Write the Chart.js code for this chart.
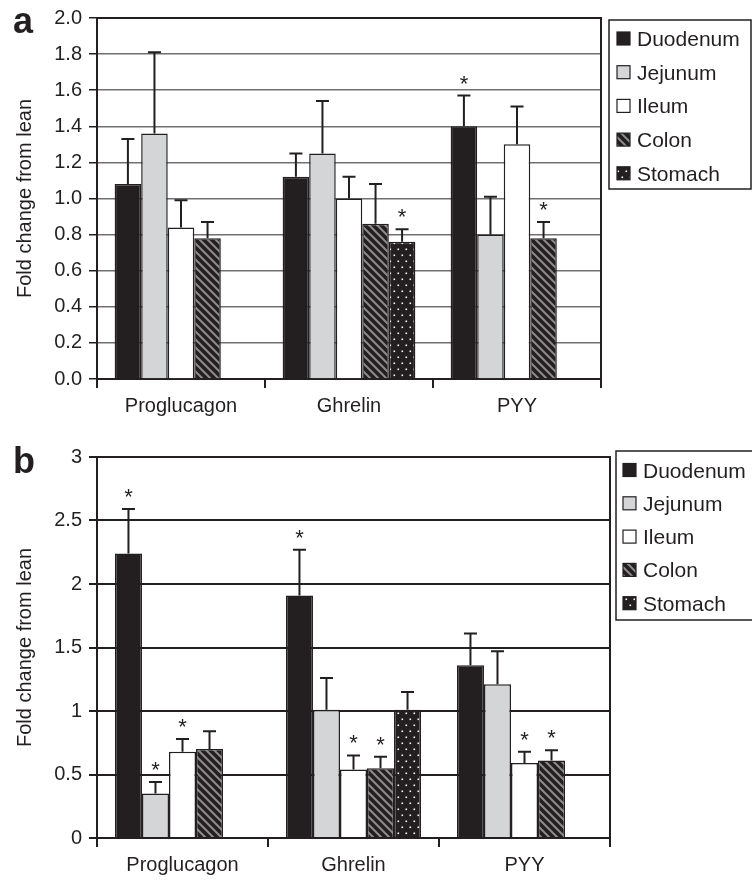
<!DOCTYPE html>
<html><head><meta charset="utf-8">
<script src="https://cdn.jsdelivr.net/npm/chart.js@4"></script>
<style>
html,body{margin:0;padding:0;background:#fff;width:752px;height:880px;overflow:hidden}
canvas{position:absolute;left:0}
#ca{top:0}
#cb{top:440px}
</style></head><body>
<canvas id="ca" width="752" height="420"></canvas>
<canvas id="cb" width="752" height="440"></canvas>
<script>
// ---------- data ----------
const categories = ['Proglucagon', 'Ghrelin', 'PYY'];
const seriesNames = ['Duodenum', 'Jejunum', 'Ileum', 'Colon', 'Stomach'];
const yTicksA = ['0.0','0.2','0.4','0.6','0.8','1.0','1.2','1.4','1.6','1.8','2.0'];
const yTicksB = ['0','0.5','1','1.5','2','2.5','3'];
const yTitle = 'Fold change from lean';

// panel a: means
const aDuodenum = [1.08, 1.12, 1.40];
const aJejunum  = [1.36, 1.25, 0.80];
const aIleum    = [0.84, 1.00, 1.30];
const aColon    = [0.78, 0.86, 0.78];
const aStomach  = [null, 0.76, null];
// panel a: upper error (SEM)
const aDuodenumErr = [0.25, 0.13, 0.17];
const aJejunumErr  = [0.45, 0.29, 0.21];
const aIleumErr    = [0.15, 0.12, 0.21];
const aColonErr    = [0.09, 0.22, 0.09];
const aStomachErr  = [null, 0.07, null];
// panel a: significance stars
const aDuodenumStar = [false, false, true];
const aJejunumStar  = [false, false, false];
const aIleumStar    = [false, false, false];
const aColonStar    = [false, false, true];
const aStomachStar  = [false, true, false];

// panel b: means
const bDuodenum = [2.24, 1.91, 1.36];
const bJejunum  = [0.35, 1.01, 1.21];
const bIleum    = [0.68, 0.54, 0.59];
const bColon    = [0.70, 0.55, 0.61];
const bStomach  = [null, 1.01, null];
// panel b: upper error (SEM)
const bDuodenumErr = [0.35, 0.36, 0.25];
const bJejunumErr  = [0.09, 0.25, 0.26];
const bIleumErr    = [0.10, 0.11, 0.09];
const bColonErr    = [0.14, 0.09, 0.08];
const bStomachErr  = [null, 0.14, null];
// panel b: significance stars
const bDuodenumStar = [true, true, false];
const bJejunumStar  = [true, false, false];
const bIleumStar    = [true, true, true];
const bColonStar    = [false, true, true];
const bStomachStar  = [false, false, false];

// ---------- styles ----------
const INK = '#231f20';
const FONT = "'Liberation Sans', Arial, Helvetica, sans-serif";

function stripePattern() {
  const c = document.createElement('canvas'); c.width = 8; c.height = 8;
  const g = c.getContext('2d');
  g.fillStyle = INK; g.fillRect(0, 0, 8, 8);
  g.strokeStyle = '#8c8c8c'; g.lineWidth = 2;
  g.beginPath();
  g.moveTo(-2, -2); g.lineTo(10, 10);
  g.moveTo(-2, 6); g.lineTo(2, 10);
  g.moveTo(6, -2); g.lineTo(10, 2);
  g.stroke();
  return g.createPattern(c, 'repeat');
}
function dotPattern() {
  const c = document.createElement('canvas'); c.width = 8; c.height = 12;
  const g = c.getContext('2d');
  g.fillStyle = INK; g.fillRect(0, 0, 8, 12);
  g.fillStyle = '#ffffff';
  g.fillRect(1.5, 2.5, 1.6, 1.6);
  g.fillRect(5.5, 8.5, 1.6, 1.6);
  return g.createPattern(c, 'repeat');
}
const fills = [INK, '#d4d5d6', '#ffffff', stripePattern(), dotPattern()];

// ---------- plugins ----------
const errorPlugin = {
  id: 'errorBars',
  afterDatasetsDraw(chart) {
    const ctx = chart.ctx, ys = chart.scales.y;
    ctx.save();
    chart.data.datasets.forEach((ds, di) => {
      const meta = chart.getDatasetMeta(di);
      meta.data.forEach((bar, i) => {
        const v = ds.data[i], e = ds.errors[i];
        if (v == null || e == null) return;
        const top = ys.getPixelForValue(v + e);
        ctx.strokeStyle = INK; ctx.lineWidth = 2;
        ctx.beginPath();
        ctx.moveTo(bar.x, bar.y); ctx.lineTo(bar.x, top);
        ctx.moveTo(bar.x - 6.5, top); ctx.lineTo(bar.x + 6.5, top);
        ctx.stroke();
        if (ds.stars[i]) {
          ctx.fillStyle = INK;
          ctx.font = '22px ' + FONT;
          ctx.textAlign = 'center'; ctx.textBaseline = 'alphabetic';
          ctx.fillText('*', bar.x, top - 5);
        }
      });
    });
    ctx.restore();
  }
};
const framePlugin = {
  id: 'frame',
  beforeDatasetsDraw(chart) {
    const {ctx, chartArea: a} = chart;
    ctx.save();
    ctx.strokeStyle = INK; ctx.lineWidth = 2;
    ctx.strokeRect(a.left, a.top, a.right - a.left, a.bottom - a.top);
    ctx.restore();
  }
};
function legendPlugin(cfg) {
  return {
    id: 'boxLegend',
    afterDraw(chart) {
      const ctx = chart.ctx;
      ctx.save();
      ctx.strokeStyle = INK; ctx.lineWidth = 1.5;
      ctx.strokeRect(cfg.x0, cfg.y0, cfg.x1 - cfg.x0, cfg.y1 - cfg.y0);
      ctx.font = '21px ' + FONT;
      ctx.textAlign = 'left'; ctx.textBaseline = 'alphabetic';
      chart.data.datasets.forEach((ds, i) => {
        const cy = cfg.rowY + i * cfg.step;
        ctx.fillStyle = ds.backgroundColor;
        ctx.fillRect(cfg.swX, cy - 6.5, 13, 13);
        ctx.lineWidth = 1.2; ctx.strokeStyle = INK;
        ctx.strokeRect(cfg.swX, cy - 6.5, 13, 13);
        ctx.fillStyle = INK;
        ctx.fillText(ds.label, cfg.textX, cy + 7.5);
      });
      ctx.restore();
    }
  };
}
function panelLabel(txt, x, y) {
  return {
    id: 'panelLabel',
    afterDraw(chart) {
      const ctx = chart.ctx;
      ctx.save();
      ctx.fillStyle = INK;
      ctx.font = 'bold 36px ' + FONT;
      ctx.textAlign = 'left'; ctx.textBaseline = 'alphabetic';
      ctx.fillText(txt, x, y);
      ctx.restore();
    }
  };
}

function makeChart(id, series, errs, stars, ticks, ymax, geo, gridColor, gridWidth, extraPlugins) {
  const datasets = seriesNames.map((n, i) => ({
    label: n,
    data: series[i],
    errors: errs[i],
    stars: stars[i],
    backgroundColor: fills[i],
    borderColor: INK,
    borderWidth: 1.5,
    categoryPercentage: 0.79,
    barPercentage: 1.0
  }));
  return new Chart(document.getElementById(id), {
    type: 'bar',
    data: { labels: categories, datasets },
    options: {
      responsive: false,
      animation: false,
      devicePixelRatio: 1,
      layout: { padding: { left: 0, right: geo.padRight, top: geo.padTop, bottom: 0 } },
      plugins: { legend: { display: false }, tooltip: { enabled: false } },
      scales: {
        x: {
          type: 'category',
          grid: { offset: true, drawOnChartArea: false, tickLength: 9, tickColor: INK, lineWidth: 2 },
          border: { color: INK, width: 2 },
          ticks: { color: INK, font: { family: FONT, size: 20 }, padding: 6, maxRotation: 0 },
          afterFit(s) { s.height = geo.xHeight; }
        },
        y: {
          min: 0, max: ymax,
          afterBuildTicks(s) { s.ticks = ticks.map(t => ({ value: parseFloat(t) })); },
          grid: { color: gridColor, lineWidth: gridWidth, tickLength: 8, tickColor: INK },
          border: { color: INK, width: 2 },
          ticks: { color: INK, font: { family: FONT, size: 20, lineHeight: 1 }, padding: 7,
                   callback: (v, i) => ticks[i] },
          title: { display: true, text: yTitle, color: INK, font: { family: FONT, size: 20, lineHeight: 1.2 },
                   padding: { top: 13.5, bottom: 0 } },
          afterFit(s) { s.width = 97; }
        }
      }
    },
    plugins: [framePlugin, errorPlugin].concat(extraPlugins)
  });
}

makeChart('ca',
  [aDuodenum, aJejunum, aIleum, aColon, aStomach],
  [aDuodenumErr, aJejunumErr, aIleumErr, aColonErr, aStomachErr],
  [aDuodenumStar, aJejunumStar, aIleumStar, aColonStar, aStomachStar],
  yTicksA, 2.0,
  { padRight: 151, padTop: 18, xHeight: 41 },
  '#707070', 1.5,
  [legendPlugin({ x0: 609, y0: 20, x1: 751, y1: 189, rowY: 38.5, step: 33.7, swX: 617, textX: 637 }),
   panelLabel('a', 13, 33)]);

makeChart('cb',
  [bDuodenum, bJejunum, bIleum, bColon, bStomach],
  [bDuodenumErr, bJejunumErr, bIleumErr, bColonErr, bStomachErr],
  [bDuodenumStar, bJejunumStar, bIleumStar, bColonStar, bStomachStar],
  yTicksB, 3,
  { padRight: 142, padTop: 12, xHeight: 42 },
  INK, 2,
  [legendPlugin({ x0: 616, y0: 11, x1: 770, y1: 180, rowY: 30, step: 33.3, swX: 623, textX: 643 }),
   panelLabel('b', 13, 33)]);
</script>
</body></html>
